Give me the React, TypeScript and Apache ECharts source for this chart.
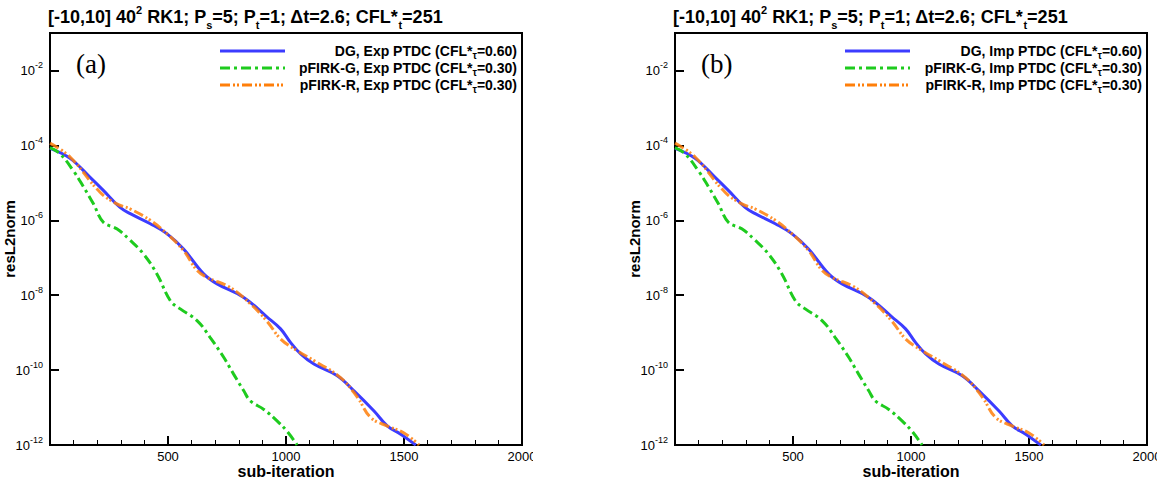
import React, { useEffect, useRef } from 'react';
import * as echarts from 'echarts';

const FONT = '"Liberation Sans", Arial, Helvetica, sans-serif';
const SERIF = '"Liberation Serif", "Times New Roman", serif';

// ---------- data (panel a: explicit PTDC) ----------
const dgIterA = [0, 85, 170, 226, 297, 340, 425, 495, 566, 651, 708, 821, 920, 977, 1019, 1062, 1118, 1217, 1288, 1373, 1430, 1486, 1550];
const dgResA = [8.3e-5, 4.5e-5, 1.4e-5, 6.3e-6, 2.2e-6, 1.5e-6, 8.1e-7, 4.4e-7, 1.7e-7, 3.7e-8, 2.0e-8, 8.7e-9, 2.6e-9, 1.26e-9, 5.5e-10, 2.7e-10, 1.45e-10, 7.1e-11, 2.8e-11, 8.1e-12, 3.2e-12, 1.95e-12, 1.0e-12];

const gIterA = [0, 42, 99, 142, 184, 226, 283, 340, 396, 453, 510, 552, 623, 679, 736, 778, 821, 849, 906, 962, 1005, 1047];
const gResA = [8.7e-5, 6.0e-5, 2.1e-5, 7.8e-6, 2.75e-6, 8.9e-7, 5.9e-7, 2.9e-7, 1.26e-7, 3.7e-8, 7.1e-9, 4.3e-9, 2.1e-9, 7.4e-10, 2.2e-10, 7.8e-11, 2.8e-11, 1.5e-11, 8.9e-12, 4.4e-12, 2.3e-12, 1.0e-12];

const rIterA = [0, 85, 212, 283, 340, 425, 495, 566, 623, 665, 764, 849, 920, 977, 1047, 1118, 1231, 1302, 1359, 1430, 1500, 1564];
const rResA = [1.15e-4, 4.9e-5, 5.6e-6, 2.75e-6, 2.0e-6, 1.0e-6, 4.4e-7, 1.55e-7, 4.6e-8, 3.0e-8, 1.6e-8, 5.9e-9, 2.0e-9, 6.8e-10, 3.3e-10, 1.8e-10, 6.3e-11, 1.9e-11, 5.4e-12, 3.2e-12, 2.1e-12, 1.0e-12];

// ---------- data (panel b: implicit PTDC) ----------
const dgIterB = [0, 85, 170, 226, 297, 340, 425, 495, 566, 651, 708, 821, 920, 977, 1019, 1062, 1118, 1217, 1288, 1373, 1430, 1486, 1550];
const dgResB = [8.3e-5, 4.5e-5, 1.4e-5, 6.3e-6, 2.2e-6, 1.5e-6, 8.1e-7, 4.4e-7, 1.7e-7, 3.7e-8, 2.0e-8, 8.7e-9, 2.6e-9, 1.26e-9, 5.5e-10, 2.7e-10, 1.45e-10, 7.1e-11, 2.8e-11, 8.1e-12, 3.2e-12, 1.95e-12, 1.0e-12];

const gIterB = [0, 42, 99, 142, 184, 226, 283, 340, 396, 453, 510, 552, 623, 679, 736, 778, 821, 849, 906, 962, 1005, 1047];
const gResB = [8.7e-5, 6.0e-5, 2.1e-5, 7.8e-6, 2.75e-6, 8.9e-7, 5.9e-7, 2.9e-7, 1.26e-7, 3.7e-8, 7.1e-9, 4.3e-9, 2.1e-9, 7.4e-10, 2.2e-10, 7.8e-11, 2.8e-11, 1.5e-11, 8.9e-12, 4.4e-12, 2.3e-12, 1.0e-12];

const rIterB = [0, 85, 212, 283, 340, 425, 495, 566, 623, 665, 764, 849, 920, 977, 1047, 1118, 1231, 1302, 1359, 1430, 1500, 1564];
const rResB = [1.15e-4, 4.9e-5, 5.6e-6, 2.75e-6, 2.0e-6, 1.0e-6, 4.4e-7, 1.55e-7, 4.6e-8, 3.0e-8, 1.6e-8, 5.9e-9, 2.0e-9, 6.8e-10, 3.3e-10, 1.8e-10, 6.3e-11, 1.9e-11, 5.4e-12, 3.2e-12, 2.1e-12, 1.0e-12];

const yLabelExponents = [-12, -10, -8, -6, -4, -2];
const xLabelValues = [500, 1000, 1500, 2000];

const titleText = '[-10,10] 40{sup|2} RK1; P{sub|s}=5; P{sub|t}=1; \u0394t=2.6; CFL*{sub|t}=251';
const legendA = ['DG, Exp PTDC (CFL*{sub|\u03c4}=0.60)', 'pFIRK-G, Exp PTDC (CFL*{sub|\u03c4}=0.30)', 'pFIRK-R, Exp PTDC (CFL*{sub|\u03c4}=0.30)'];
const legendB = ['DG, Imp PTDC (CFL*{sub|\u03c4}=0.60)', 'pFIRK-G, Imp PTDC (CFL*{sub|\u03c4}=0.30)', 'pFIRK-R, Imp PTDC (CFL*{sub|\u03c4}=0.30)'];

const BLUE = '#3c3cff';
const GREEN = '#1ecb1e';
const ORANGE = '#ff7f0a';
const styles = [
  { color: BLUE, dash: 'solid' as any },
  { color: GREEN, dash: [10, 4, 3, 4] },
  { color: ORANGE, dash: [10, 3, 2, 2, 2, 3] },
];

const panels = [
  { left: 50, label: '(a)', legend: legendA, series: [[dgIterA, dgResA], [gIterA, gResA], [rIterA, rResA]] },
  { left: 675, label: '(b)', legend: legendB, series: [[dgIterB, dgResB], [gIterB, gResB], [rIterB, rResB]] },
];

const GW = 472;
const GTOP = 33;
const GH = 412;

export default function App() {
  const ref = useRef<HTMLDivElement>(null);
  useEffect(() => {
    if (!ref.current) return;
    const chart = echarts.init(ref.current, null, { renderer: 'svg' });

    const grid: any[] = [];
    const xAxis: any[] = [];
    const yAxis: any[] = [];
    const series: any[] = [];
    const graphic: any[] = [];

    const subRich = {
      sub: { fontSize: 10, fontWeight: 'bold', fontFamily: FONT, fill: '#000', color: '#000', verticalAlign: 'bottom', lineHeight: 10 },
      sup: { fontSize: 10, fontWeight: 'bold', fontFamily: FONT, fill: '#000', color: '#000', verticalAlign: 'top', lineHeight: 10 },
    };

    panels.forEach((p, i) => {
      grid.push({
        left: p.left, top: GTOP, width: GW, height: GH, show: true, borderColor: '#000', borderWidth: 2,
        backgroundColor: 'transparent', containLabel: false, outerBoundsMode: 'none',
      });
      xAxis.push({
        gridIndex: i, type: 'value', min: 0, max: 2000, interval: 500,
        axisLine: { show: true, onZero: false, lineStyle: { color: '#000', width: 2 } },
        axisTick: { show: true, inside: true, length: 9, lineStyle: { color: '#000', width: 2 } },
        minorTick: { show: true, splitNumber: 5, length: 5, lineStyle: { color: '#000', width: 1 } },
        splitLine: { show: false },
        axisLabel: { color: '#000', fontSize: 13, fontFamily: FONT, margin: 4, lineHeight: 14, formatter: (v: number) => (xLabelValues.includes(v) ? String(v) : '') },
        name: 'sub-iteration', nameLocation: 'middle', nameGap: 18, nameMoveOverlap: false,
        nameTextStyle: { color: '#000', fontSize: 16, fontWeight: 'bold', fontFamily: FONT, lineHeight: 16 },
      });
      yAxis.push({
        gridIndex: i, type: 'value', min: -12, max: -1, interval: 2,
        axisLine: { show: true, onZero: false, lineStyle: { color: '#000', width: 2 } },
        axisTick: { show: true, inside: true, length: 9, lineStyle: { color: '#000', width: 2 } },
        splitLine: { show: false },
        axisLabel: {
          color: '#000', fontSize: 13, fontFamily: FONT, margin: 7, lineHeight: 20,
          formatter: (v: number) => (yLabelExponents.includes(v) ? `10{s|${v}}` : ''),
          rich: { s: { fontSize: 9, fontFamily: FONT, color: '#000', verticalAlign: 'top', lineHeight: 10 } },
        },
        name: 'resL2norm', nameLocation: 'middle', nameGap: 33, nameMoveOverlap: false,
        nameTextStyle: { color: '#000', fontSize: 15, fontWeight: 'bold', fontFamily: FONT },
      });

      const order = [0, 2, 1];
      order.forEach((k) => {
        const [its, res] = p.series[k];
        series.push({
          type: 'line', xAxisIndex: i, yAxisIndex: i,
          data: (its as number[]).map((x, j) => [x, Math.log10((res as number[])[j])]),
          showSymbol: false, smooth: 0.4, clip: true,
          lineStyle: { color: styles[k].color, width: 3, type: styles[k].dash, opacity: k === 2 ? 0.85 : 1 },
          z: 3 + k,
        });
      });

      // title
      graphic.push({
        type: 'text', left: p.left - 2, top: 4, z: 10,
        style: {
          text: titleText, fill: '#000', fontSize: 18, fontWeight: 'bold', fontFamily: FONT, lineHeight: 26,
          rich: {
            sub: { fontSize: 11, fontWeight: 'bold', fontFamily: FONT, fill: '#000', verticalAlign: 'bottom', lineHeight: 12 },
            sup: { fontSize: 11, fontWeight: 'bold', fontFamily: FONT, fill: '#000', verticalAlign: 'top', lineHeight: 12 },
          },
        },
      });
      // panel label
      graphic.push({
        type: 'text', z: 10,
        style: { text: p.label, x: p.left + 26, y: 64, fill: '#000', fontSize: 27, fontFamily: SERIF, verticalAlign: 'middle', align: 'left' },
      });
      // legend
      const rows = [51, 68, 85];
      rows.forEach((y, k) => {
        graphic.push({
          type: 'line', z: 10,
          shape: { x1: p.left + 170, y1: y, x2: p.left + 235, y2: y },
          style: { stroke: styles[k].color, lineWidth: 3, lineDash: k === 0 ? null : styles[k].dash },
        });
        graphic.push({
          type: 'text', z: 10,
          style: {
            text: p.legend[k], x: p.left + 467, y, align: 'right', verticalAlign: 'middle',
            fill: '#000', fontSize: 14, fontWeight: 'bold', fontFamily: FONT, lineHeight: 18,
            rich: subRich,
          },
        });
      });
    });

    // cropping of the last x label at the panel edges
    graphic.push({ type: 'rect', z: 100, shape: { x: 533, y: 447, width: 60, height: 14 }, style: { fill: '#fff' } });
    graphic.push({ type: 'rect', z: 100, shape: { x: 1157, y: 447, width: 10, height: 14 }, style: { fill: '#fff' } });

    chart.setOption({ animation: false, backgroundColor: '#fff', grid, xAxis, yAxis, series, graphic });
    return () => chart.dispose();
  }, []);
  return <div ref={ref} style={{ position: 'fixed', left: 0, top: 0, width: 1163, height: 482 }} />;
}
